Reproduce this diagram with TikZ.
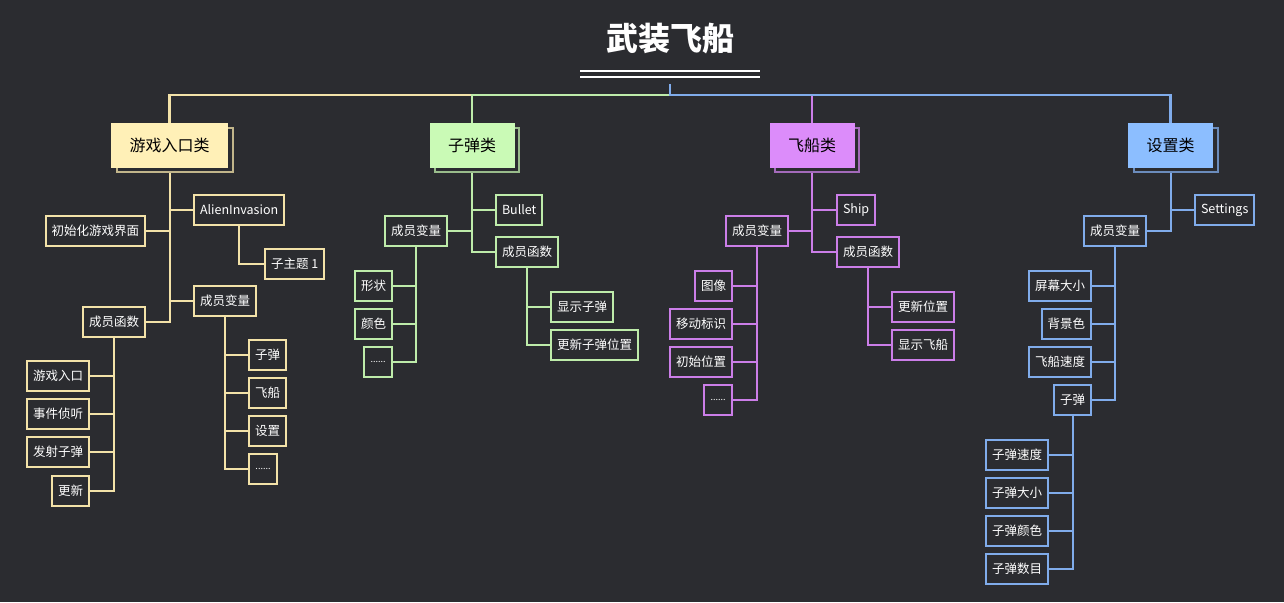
\documentclass[tikz,border=0pt]{standalone}
\usepackage{fontspec}
\setmainfont{Noto Sans CJK SC}
\usetikzlibrary{positioning,calc}
\definecolor{bg}{RGB}{43,44,48}
\definecolor{ycol}{RGB}{243,226,168}
\definecolor{yfill}{RGB}{255,240,183}
\definecolor{gcol}{RGB}{190,236,170}
\definecolor{gfill}{RGB}{202,250,182}
\definecolor{pcol}{RGB}{203,126,232}
\definecolor{pfill}{RGB}{220,140,250}
\definecolor{bcol}{RGB}{128,172,235}
\definecolor{bfill}{RGB}{140,190,255}
\tikzset{
  classbox/.style={
    rectangle,
    fill=#1, draw=#1,
    text=black,
    font=\fontsize{16}{19}\selectfont,
    inner xsep=18pt, inner ysep=0pt,
    minimum height=44pt},
  classback/.style={
    rectangle,
    fill=bg, draw=#1!75!bg, line width=2pt,
    font=\fontsize{16}{19}\selectfont,
    inner xsep=18pt, inner ysep=0pt,
    minimum height=44pt},
  leaf/.style={
    rectangle,
    draw=#1, line width=2pt,
    fill=bg, text=white,
    font=\fontsize{12.5}{15}\selectfont,
    inner xsep=6pt, inner ysep=0pt,
    minimum height=30pt},
  dots/.style={font=\fontsize{9}{10}\selectfont, minimum width=28pt},
  trunk/.style={draw=#1, line width=2.5pt},
  twig/.style={draw=#1, line width=2pt},
  underline/.style={draw=white, line width=2.5pt},
}

\begin{document}
\begin{tikzpicture}[x=1pt,y=-1pt]
  \fill[bg] (0,0) rectangle (1284,602);
  \useasboundingbox (0,0) rectangle (1284,602);

  % root
  \node[text=white, font=\fontsize{32}{36}\selectfont\bfseries] (title) at (670,39) {武装飞船};
  \draw[underline] (580,71) -- (760,71);
  \draw[underline] (580,77) -- (760,77);
  \coordinate (hub) at (670,84);

  % main classes
  \node[classback=ycol] (gameback) at (174.5,150) {\phantom{游戏入口类}};
  \node[classbox=yfill] (game) at (169.5,145) {游戏入口类};
  \node[classback=gcol] (bulletback) at (477,150) {\phantom{子弹类}};
  \node[classbox=gfill] (bullet) at (472,145) {子弹类};
  \node[classback=pcol] (shipback) at (817,150) {\phantom{飞船类}};
  \node[classbox=pfill] (ship) at (812,145) {飞船类};
  \node[classback=bcol] (settingsback) at (1175.5,150) {\phantom{设置类}};
  \node[classbox=bfill] (settings) at (1170.5,145) {设置类};
  \coordinate (gameout) at (game.south |- gameback.south);
  \coordinate (bulletout) at (bullet.south |- bulletback.south);
  \coordinate (shipout) at (ship.south |- shipback.south);
  \coordinate (settingsout) at (settings.south |- settingsback.south);

  % game branch
  \node[leaf=ycol, anchor=west] (gAlien) at (193,210) {AlienInvasion};
  \node[leaf=ycol, anchor=east] (gInit) at (146,231) {初始化游戏界面};
  \node[leaf=ycol, anchor=west] (gSub) at (264,264) {子主题 1};
  \node[leaf=ycol, anchor=west] (gVar) at (193,301) {成员变量};
  \node[leaf=ycol, anchor=east] (gFunc) at (146,322) {成员函数};
  \node[leaf=ycol, anchor=east] (gEntry) at (90,376) {游戏入口};
  \node[leaf=ycol, anchor=east] (gEvent) at (90,414) {事件侦听};
  \node[leaf=ycol, anchor=east] (gFire) at (90,452) {发射子弹};
  \node[leaf=ycol, anchor=east] (gUpdate) at (90,491) {更新};
  \node[leaf=ycol, anchor=west] (gvBullet) at (248,355) {子弹};
  \node[leaf=ycol, anchor=west] (gvShip) at (248,393) {飞船};
  \node[leaf=ycol, anchor=west] (gvSet) at (248,431) {设置};
  \node[leaf=ycol, dots, anchor=west] (gvMore) at (248,469) {......};

  % bullet branch
  \node[leaf=gcol, anchor=west] (bBullet) at (495,210) {Bullet};
  \node[leaf=gcol, anchor=west] (bFunc) at (495,252) {成员函数};
  \node[leaf=gcol, anchor=east] (bVar) at (448,231) {成员变量};
  \node[leaf=gcol, anchor=east] (bShape) at (393,286) {形状};
  \node[leaf=gcol, anchor=east] (bColor) at (393,324) {颜色};
  \node[leaf=gcol, dots, anchor=east] (bMore) at (393,362) {......};
  \node[leaf=gcol, anchor=west] (bShow) at (550,307) {显示子弹};
  \node[leaf=gcol, anchor=west] (bMove) at (550,345) {更新子弹位置};

  % ship branch
  \node[leaf=pcol, anchor=west] (sShip) at (836,210) {Ship};
  \node[leaf=pcol, anchor=west] (sFunc) at (836,252) {成员函数};
  \node[leaf=pcol, anchor=east] (sVar) at (789,231) {成员变量};
  \node[leaf=pcol, anchor=east] (sImage) at (733,286) {图像};
  \node[leaf=pcol, anchor=east] (sFlag) at (733,324) {移动标识};
  \node[leaf=pcol, anchor=east] (sPos) at (733,362) {初始位置};
  \node[leaf=pcol, dots, anchor=east] (sMore) at (733,400) {......};
  \node[leaf=pcol, anchor=west] (sUpdate) at (891,307) {更新位置};
  \node[leaf=pcol, anchor=west] (sShow) at (891,345) {显示飞船};

  % settings branch
  \node[leaf=bcol, anchor=west] (tSettings) at (1194,210) {Settings};
  \node[leaf=bcol, anchor=east] (tVar) at (1147,231) {成员变量};
  \node[leaf=bcol, anchor=east] (tScreen) at (1092,286) {屏幕大小};
  \node[leaf=bcol, anchor=east] (tBg) at (1092,324) {背景色};
  \node[leaf=bcol, anchor=east] (tSpeed) at (1092,362) {飞船速度};
  \node[leaf=bcol, anchor=east] (tBullet) at (1092,400) {子弹};
  \node[leaf=bcol, anchor=east] (tbSpeed) at (1049,455) {子弹速度};
  \node[leaf=bcol, anchor=east] (tbSize) at (1049,493) {子弹大小};
  \node[leaf=bcol, anchor=east] (tbColor) at (1049,531) {子弹颜色};
  \node[leaf=bcol, anchor=east] (tbCount) at (1049,569) {子弹数目};

  % connectors from the root
  \draw[trunk=ycol] (hub) -- ++(0,11) -| (game.north);
  \draw[trunk=gcol] (hub) -- ++(0,11) -| (bullet.north);
  \draw[trunk=pcol] (hub) -- ++(0,11) -| (ship.north);
  \draw[trunk=bcol] (hub) -- ++(0,11) -| (settings.north);

  % game connectors
  \foreach \n in {gAlien,gVar} \draw[twig=ycol] (gameout) |- (\n.west);
  \foreach \n in {gInit,gFunc} \draw[twig=ycol] (gameout) |- (\n.east);
  \draw[twig=ycol] (gAlien.south) |- (gSub.west);
  \foreach \n in {gEntry,gEvent,gFire,gUpdate} \draw[twig=ycol] (gFunc.south) |- (\n.east);
  \foreach \n in {gvBullet,gvShip,gvSet,gvMore} \draw[twig=ycol] (gVar.south) |- (\n.west);

  % bullet connectors
  \foreach \n in {bBullet,bFunc} \draw[twig=gcol] (bulletout) |- (\n.west);
  \draw[twig=gcol] (bulletout) |- (bVar.east);
  \foreach \n in {bShape,bColor,bMore} \draw[twig=gcol] (bVar.south) |- (\n.east);
  \foreach \n in {bShow,bMove} \draw[twig=gcol] (bFunc.south) |- (\n.west);

  % ship connectors
  \foreach \n in {sShip,sFunc} \draw[twig=pcol] (shipout) |- (\n.west);
  \draw[twig=pcol] (shipout) |- (sVar.east);
  \foreach \n in {sImage,sFlag,sPos,sMore} \draw[twig=pcol] (sVar.south) |- (\n.east);
  \foreach \n in {sUpdate,sShow} \draw[twig=pcol] (sFunc.south) |- (\n.west);

  % settings connectors
  \draw[twig=bcol] (settingsout) |- (tSettings.west);
  \draw[twig=bcol] (settingsout) |- (tVar.east);
  \foreach \n in {tScreen,tBg,tSpeed,tBullet} \draw[twig=bcol] (tVar.south) |- (\n.east);
  \foreach \n in {tbSpeed,tbSize,tbColor,tbCount} \draw[twig=bcol] (tBullet.south) |- (\n.east);
\end{tikzpicture}
\end{document}
